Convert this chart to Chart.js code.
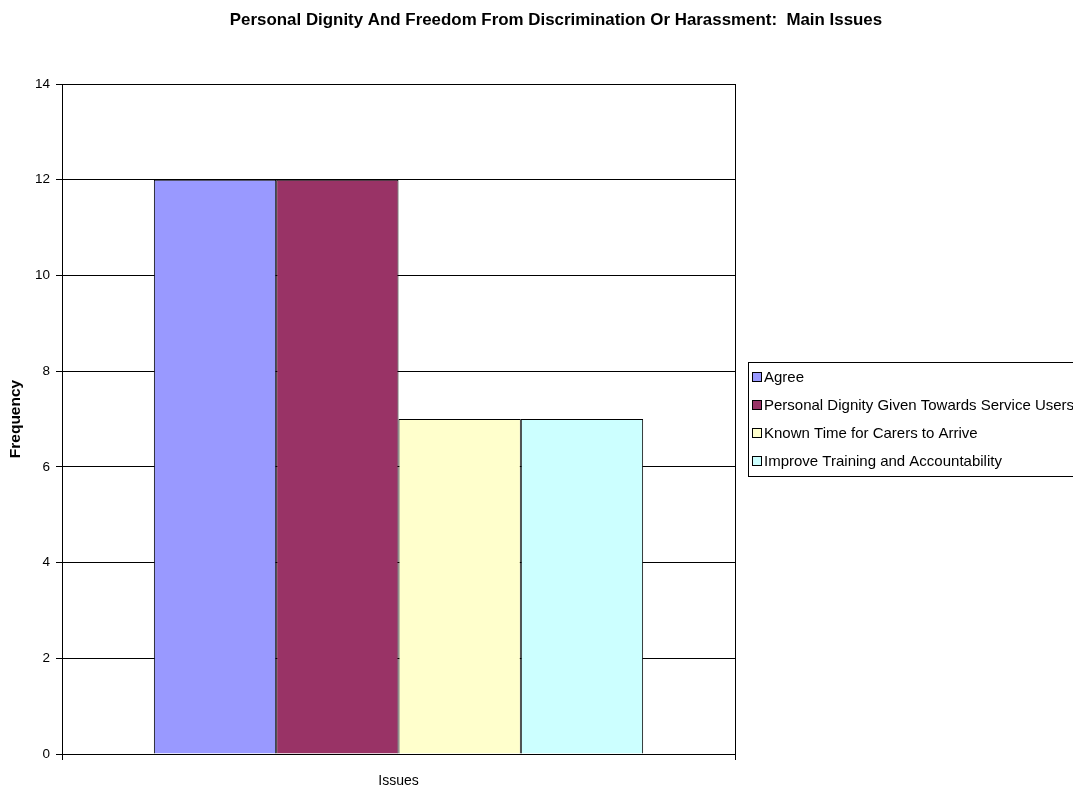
<!DOCTYPE html>
<html>
<head>
<meta charset="utf-8">
<script src="https://cdn.jsdelivr.net/npm/chart.js@4"></script>
<style>
  html, body { margin: 0; padding: 0; background: #fff; overflow: hidden; }
  #wrap { width: 1073px; height: 791px; }
</style>
</head>
<body>
<div id="wrap"><canvas id="grafico"></canvas></div>
<script>
const chartTitle = "Personal Dignity And Freedom From Discrimination Or Harassment:  Main Issues";
const categories = ["Issues"];
const seriesNames = [
    "Agree",
    "Personal Dignity Given Towards Service Users",
    "Known Time for Carers to Arrive",
    "Improve Training and Accountability"
];
const seriesValues = [12, 12, 7, 7];
const seriesColors = ["#9999FF", "#993366", "#FFFFCC", "#CCFFFF"];
const yTicks = [0, 2, 4, 6, 8, 10, 12, 14];

const FONT = "'Liberation Sans', Arial, sans-serif";

// title centred on the whole page, legend box running past the right edge like the original
const decorations = {
    id: "decorations",
    afterDraw(chart) {
        const c = chart.ctx;
        c.save();
        c.fillStyle = "#000";
        c.font = "bold 16.9px " + FONT;
        c.textAlign = "center";
        c.textBaseline = "middle";
        c.fillText(chartTitle, 556, 20);

        const x0 = 748, y0 = 362, w = 360, h = 114;
        c.fillStyle = "#fff";
        c.fillRect(x0, y0, w, h);
        c.strokeStyle = "#000";
        c.lineWidth = 1;
        c.strokeRect(x0 + 0.5, y0 + 0.5, w, h);
        c.font = "15px " + FONT;
        c.textAlign = "left";
        chart.data.datasets.forEach((ds, i) => {
            const cy = 377 + i * 28;
            c.fillStyle = ds.backgroundColor;
            c.fillRect(753, cy - 4, 8, 8);
            c.strokeStyle = "#000";
            c.strokeRect(752.5, cy - 4.5, 9, 9);
            c.fillStyle = "#000";
            c.fillText(ds.label, 764, cy + 1);
        });
        c.restore();
    }
};

const ctx = document.getElementById("grafico");
new Chart(ctx, {
    type: "bar",
    data: {
        labels: categories,
        datasets: seriesNames.map((name, i) => ({
            label: name,
            data: [seriesValues[i]],
            backgroundColor: seriesColors[i],
            borderColor: "#000",
            borderWidth: 1,
            barPercentage: 1,
            categoryPercentage: 0.727
        }))
    },
    options: {
        responsive: true,
        maintainAspectRatio: false,
        animation: false,
        devicePixelRatio: 1,
        layout: { padding: { left: 0, right: 338, top: 84, bottom: 0 } },
        plugins: {
            legend: { display: false },
            tooltip: { enabled: false },
            title: { display: false }
        },
        scales: {
            x: {
                afterFit: s => { s.height = 37; },
                grid: { color: "#000", lineWidth: 1, drawTicks: true, tickLength: 6 },
                border: { color: "#000" },
                ticks: {
                    color: "#000",
                    padding: 13,
                    font: { family: FONT, size: 14 }
                }
            },
            y: {
                min: 0,
                max: 14,
                afterBuildTicks: s => { s.ticks = yTicks.map(v => ({ value: v })); },
                afterFit: s => { s.width = 62; },
                grid: { color: "#000", lineWidth: 1, drawTicks: true, tickLength: 6 },
                border: { color: "#000" },
                ticks: {
                    color: "#000",
                    padding: 6,
                    font: { family: FONT, size: 13.5 }
                },
                title: {
                    display: true,
                    text: "Frequency",
                    color: "#000",
                    font: { family: FONT, size: 15.5, weight: "bold" },
                    padding: { top: 6, bottom: 0 }
                }
            }
        }
    },
    plugins: [decorations]
});
</script>
</body>
</html>
